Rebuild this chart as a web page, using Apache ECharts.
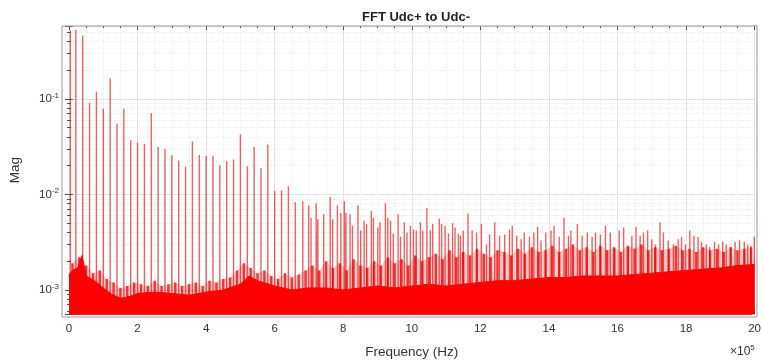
<!DOCTYPE html>
<html>
<head>
<meta charset="utf-8">
<title>FFT Udc+ to Udc-</title>
<script src="https://cdn.jsdelivr.net/npm/echarts@6/dist/echarts.min.js"></script>
<style>
  html, body { margin: 0; padding: 0; background: #fff; }
  #chart { width: 764px; height: 364px; }
</style>
</head>
<body>
<div id="chart"></div>
<script>
// frequency in units of 1e5 Hz

// spectral lines
const spikeFreq = [
  0.04, 0.2, 0.4, 0.6, 0.8, 1.0, 1.2, 1.4, 1.6, 1.8, 2.0, 2.2, 2.4, 2.6, 2.8, 3.0, 3.2, 3.4, 3.6, 3.8,
  4.0, 4.2, 4.4, 4.6, 4.8, 5.0, 5.2, 5.4, 5.6, 5.8, 6.0, 6.2, 6.4, 6.6,
  6.82, 6.99, 7.06, 7.21, 7.26, 7.43, 7.62, 7.69, 7.83, 7.93, 8.03, 8.08, 8.20, 8.27, 8.43, 8.51,
  8.61, 8.68, 8.82, 8.88, 9.01, 9.07, 9.23, 9.30, 9.38, 9.46, 9.60, 9.67, 9.78, 9.86, 9.96, 10.05,
  10.13, 10.25, 10.32, 10.44, 10.54, 10.61, 10.80, 10.87, 10.97, 11.07, 11.19, 11.26, 11.36,
  11.42, 11.50, 11.64, 11.76, 11.89, 12.03, 12.18, 12.27, 12.42, 12.56, 12.71, 12.85, 12.93, 13.06,
  13.19, 13.28, 13.43, 13.56, 13.67, 13.77, 13.91, 14.06, 14.15, 14.30, 14.44, 14.57, 14.64, 14.83,
  14.97, 15.12, 15.26, 15.36, 15.50, 15.65,
  15.79, 15.92, 16.05, 16.18, 16.32, 16.42, 16.54, 16.66, 16.76, 16.88, 17.00, 17.11, 17.24, 17.34,
  17.48, 17.63, 17.77, 17.87, 17.98, 18.11, 18.23, 18.35, 18.45, 18.59, 18.69, 18.83, 18.95, 19.07,
  19.17, 19.31, 19.43, 19.56, 19.70, 19.80, 19.89, 19.99
]
const spikeMag = [
  0.52, 0.53, 0.46, 0.091, 0.119, 0.079, 0.165, 0.055, 0.079, 0.037, 0.035, 0.034, 0.071, 0.0314, 0.030, 0.0257, 0.0226, 0.0196, 0.0358, 0.0258,
  0.0252, 0.0254, 0.0202, 0.0222, 0.0232, 0.0423, 0.0196, 0.0314, 0.0188, 0.0334, 0.0108, 0.0110, 0.0122, 0.0083,
  0.0085, 0.0077, 0.0057, 0.0081, 0.0055, 0.0062, 0.0094, 0.0055, 0.0077, 0.0064, 0.0085, 0.0064, 0.0062, 0.0047, 0.0077, 0.0042,
  0.0053, 0.0049, 0.0067, 0.0057, 0.0045, 0.0051, 0.0081, 0.0057, 0.0053, 0.0039, 0.0062, 0.0036, 0.0051, 0.0040, 0.0047, 0.0043,
  0.0042, 0.0051, 0.0042, 0.0072, 0.0042, 0.0049, 0.0056, 0.0049, 0.0047, 0.0039, 0.0050, 0.0045, 0.0039,
  0.0037, 0.0042, 0.0063, 0.0042, 0.0040, 0.0049, 0.0030, 0.0038, 0.0051, 0.0037, 0.0038, 0.0043, 0.0047, 0.0037,
  0.0034, 0.0040, 0.0036, 0.0040, 0.0046, 0.0033, 0.0040, 0.0042, 0.0047, 0.0036, 0.0057, 0.0037, 0.0042, 0.0049,
  0.0037, 0.0040, 0.0036, 0.0040, 0.0038, 0.0047,
  0.0040, 0.0027, 0.0042, 0.0045, 0.0028, 0.0037, 0.0046, 0.0037, 0.0040, 0.0042, 0.0034, 0.0030, 0.0051, 0.0040,
  0.0033, 0.0030, 0.0034, 0.0036, 0.0030, 0.0042, 0.0037, 0.0036, 0.0032, 0.0030, 0.0028, 0.0032, 0.0030, 0.0032,
  0.0030, 0.0028, 0.0032, 0.0033, 0.0032, 0.0030, 0.0029, 0.0036
]

// small noise peaks between the lines
const grassFreq = [
  0.1, 0.3, 0.5, 0.7, 0.9, 1.1, 1.3, 1.5, 1.7, 1.9, 2.1, 2.3, 2.5, 2.7, 2.9, 3.1, 3.3, 3.5, 3.7, 3.9,
  4.1, 4.3, 4.5, 4.7, 4.9, 5.1, 5.3, 5.5, 5.7, 5.9, 6.1, 6.3, 6.5, 6.7, 6.9, 7.1, 7.3, 7.5, 7.7, 7.9,
  8.1, 8.3, 8.5, 8.7, 8.9, 9.1, 9.3, 9.5, 9.7, 9.9, 10.1, 10.3, 10.5, 10.7, 10.9, 11.1, 11.3, 11.5, 11.7, 11.9,
  12.1, 12.3, 12.5, 12.7, 12.9, 13.1, 13.3, 13.5, 13.7, 13.9, 14.1, 14.3, 14.5, 14.7, 14.9, 15.1, 15.3, 15.5, 15.7, 15.9,
  16.1, 16.3, 16.5, 16.7, 16.9, 17.1, 17.3, 17.5, 17.7, 17.9, 18.1, 18.3, 18.5, 18.7, 18.9, 19.1, 19.3, 19.5, 19.7, 19.9
]
const grassMag = [
  1.9e-3, 2.2e-3, 1.8e-3, 1.5e-3, 1.6e-3, 1.3e-3, 1.2e-3, 1.05e-3, 1.1e-3, 1.2e-3, 1.15e-3, 1.1e-3, 1.25e-3, 1.1e-3, 1.15e-3, 1.2e-3, 1.1e-3, 1.15e-3, 1.2e-3, 1.1e-3,
  1.25e-3, 1.2e-3, 1.3e-3, 1.35e-3, 1.6e-3, 1.9e-3, 1.7e-3, 1.5e-3, 1.6e-3, 1.4e-3, 1.3e-3, 1.5e-3, 1.35e-3, 1.45e-3, 1.6e-3, 1.8e-3, 1.6e-3, 2.0e-3, 1.7e-3, 1.9e-3,
  1.6e-3, 2.1e-3, 1.8e-3, 1.7e-3, 2.0e-3, 1.8e-3, 2.2e-3, 1.9e-3, 2.1e-3, 1.8e-3, 2.3e-3, 2.0e-3, 2.2e-3, 2.4e-3, 2.1e-3, 2.6e-3, 2.2e-3, 2.5e-3, 2.3e-3, 2.7e-3,
  2.4e-3, 2.2e-3, 2.6e-3, 2.5e-3, 2.3e-3, 2.7e-3, 2.4e-3, 2.8e-3, 2.5e-3, 2.6e-3, 2.9e-3, 2.5e-3, 2.7e-3, 3.0e-3, 2.6e-3, 2.8e-3, 2.5e-3, 2.9e-3, 2.6e-3, 2.8e-3,
  2.5e-3, 2.9e-3, 2.7e-3, 3.0e-3, 2.6e-3, 2.8e-3, 2.6e-3, 2.7e-3, 2.9e-3, 2.6e-3, 2.7e-3, 2.5e-3, 2.8e-3, 2.6e-3, 2.7e-3, 2.5e-3, 2.8e-3, 2.6e-3, 2.7e-3, 2.8e-3
]

// top of the solid noise floor
const noiseFreq = [
  0, 0.1, 0.25, 0.38, 0.5, 0.75, 1.0, 1.25, 1.5, 1.75, 2.0, 2.5, 3.0, 3.5, 4.0, 4.5, 5.0, 5.25, 5.5, 6.0,
  6.5, 7.0, 7.5, 8.0, 8.5, 9.0, 9.5, 10.0, 10.5, 11.0, 11.5, 12.0, 12.5, 13.0, 13.5, 14.0, 14.5, 15.0,
  15.5, 16.0, 16.5, 17.0, 17.5, 18.0, 18.5, 19.0, 19.5, 20.0
]
const noiseMag = [
  1.45e-3, 1.6e-3, 1.7e-3, 2.3e-3, 1.4e-3, 1.25e-3, 1.05e-3, 9.0e-4, 8.2e-4, 8.5e-4, 9.2e-4, 9.5e-4, 9.2e-4, 8.8e-4, 9.5e-4, 1.0e-3, 1.15e-3, 1.4e-3, 1.25e-3, 1.1e-3,
  1.0e-3, 1.05e-3, 1.05e-3, 1.0e-3, 1.05e-3, 1.1e-3, 1.05e-3, 1.1e-3, 1.15e-3, 1.1e-3, 1.15e-3, 1.2e-3, 1.25e-3, 1.25e-3, 1.3e-3, 1.35e-3, 1.35e-3, 1.4e-3,
  1.4e-3, 1.4e-3, 1.45e-3, 1.5e-3, 1.55e-3, 1.6e-3, 1.65e-3, 1.7e-3, 1.8e-3, 1.85e-3
]

const yMin = 5.6e-4
const yMax = 0.58

const chart = echarts.init(document.getElementById("chart"))

// each line goes from the bottom of the axis up to its magnitude and back
const toStems = (freq, mag) => {
  const out = []
  freq.forEach((f, i) => {
    out.push([f, yMin], [f, mag[i]], [f, yMin])
  })
  return out
}
const spikeData = toStems(spikeFreq, spikeMag)
const grassData = toStems(grassFreq, grassMag)
const grassEnvelope = grassFreq.map((f, i) => [f, grassMag[i]])
const noiseData = noiseFreq.map((f, i) => [f, noiseMag[i]])

const font = "'Liberation Sans', Arial, Helvetica, sans-serif"
const tickColor = "#555"
const textColor = "#333"

const logLabel = (v) => {
  const e = Math.round(Math.log10(v))
  if (Math.abs(Math.log10(v) - e) > 1e-6) return ""
  return "{b|10}{s|" + e + "}"
}

const option = {
  animation: false,
  textStyle: { fontFamily: font },
  title: {
    text: "FFT Udc+ to Udc-",
    left: 411,
    textAlign: "center",
    top: 6,
    textStyle: { fontSize: 13, fontWeight: "bold", color: "#222", fontFamily: font },
  },
  grid: { left: 66, right: 7, top: 26, bottom: 47 },
  xAxis: [
    {
      type: "value",
      min: 0,
      max: 20,
      interval: 2,
      axisLine: { show: false },
      axisTick: { inside: true, length: 4, lineStyle: { color: tickColor } },
      minorTick: { show: true, splitNumber: 4, length: 2, lineStyle: { color: tickColor } },
      axisLabel: { color: textColor, fontSize: 11.5, margin: 9, fontFamily: font },
      splitLine: { show: true, lineStyle: { color: "#e2e2e2" } },
      minorSplitLine: { show: true, lineStyle: { color: "#ececec", type: "dotted" } },
      name: "Frequency (Hz)",
      nameLocation: "middle",
      nameGap: 31,
      nameTextStyle: { fontSize: 13.5, color: textColor, fontFamily: font },
    },
    {
      type: "value",
      position: "top",
      min: 0,
      max: 20,
      interval: 2,
      axisLine: { show: false },
      axisTick: { inside: true, length: 4, lineStyle: { color: tickColor } },
      minorTick: { show: true, splitNumber: 4, length: 2, lineStyle: { color: tickColor } },
      axisLabel: { show: false },
      splitLine: { show: false },
    },
  ],
  yAxis: [
    {
      type: "log",
      logBase: 10,
      min: yMin,
      max: yMax,
      offset: 4,
      axisLine: { show: false },
      axisTick: { inside: true, length: 4, lineStyle: { color: tickColor } },
      minorTick: { show: true, splitNumber: 9, length: 2, lineStyle: { color: tickColor } },
      axisLabel: {
        formatter: logLabel,
        margin: 6,
        rich: {
          b: { fontSize: 11.5, color: textColor, fontFamily: font },
          s: { fontSize: 8, color: textColor, fontFamily: font, padding: [0, 0, 7, 0] },
        },
      },
      splitLine: { show: true, lineStyle: { color: "#e2e2e2" } },
      minorSplitLine: { show: true, lineStyle: { color: "#ececec", type: "dotted" } },
      name: "Mag",
      nameLocation: "middle",
      nameGap: 43,
      nameTextStyle: { fontSize: 13.5, color: textColor, fontFamily: font },
    },
    {
      type: "log",
      logBase: 10,
      min: yMin,
      max: yMax,
      position: "right",
      axisLine: { show: false },
      axisTick: { inside: true, length: 4, lineStyle: { color: tickColor } },
      minorTick: { show: true, splitNumber: 9, length: 2, lineStyle: { color: tickColor } },
      axisLabel: { show: false },
      splitLine: { show: false },
    },
  ],
  graphic: [
    {
      type: "rect",
      shape: { x: 62, y: 26, width: 695, height: 291 },
      style: { fill: null, stroke: "#9a9a9a", lineWidth: 1 },
      z: 100,
      silent: true,
    },
    {
      type: "text",
      left: 730,
      top: 344,
      style: {
        text: "×10{s|5}",
        fill: textColor,
        font: "12px " + font,
        rich: { s: { fontSize: 8, fill: textColor, padding: [0, 0, 7, 0] } },
      },
    },
  ],
  series: [
    {
      type: "line",
      name: "haze",
      data: grassEnvelope,
      symbol: "none",
      lineStyle: { width: 0 },
      areaStyle: { color: "rgba(238, 60, 60, 0.38)", origin: "start" },
      z: 1,
    },
    {
      type: "line",
      name: "grass",
      data: grassData,
      symbol: "none",
      lineStyle: { width: 2.4, color: "rgba(240, 0, 0, 0.75)" },
      z: 1,
    },
    {
      type: "line",
      name: "lines",
      data: spikeData,
      symbol: "none",
      lineStyle: { width: 1.4, color: "rgba(228, 0, 0, 0.62)" },
      z: 2,
    },
    {
      type: "line",
      name: "floor",
      data: noiseData,
      symbol: "none",
      lineStyle: { width: 1, color: "#ff0000" },
      areaStyle: { color: "#ff0000", opacity: 1, origin: "start" },
      z: 3,
    },
  ],
}
chart.setOption(option)
</script>
</body>
</html>
